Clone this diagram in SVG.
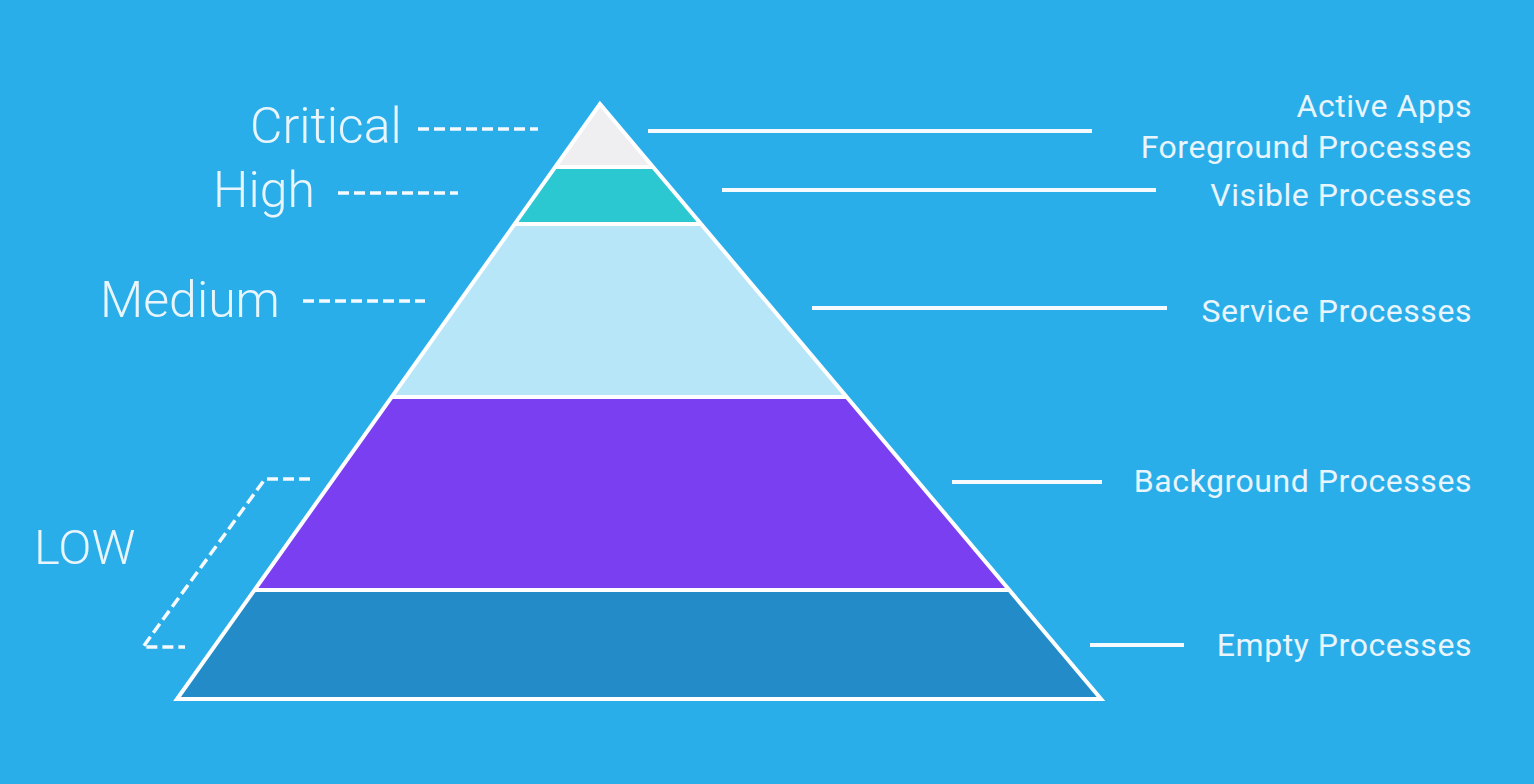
<svg xmlns="http://www.w3.org/2000/svg" width="1534" height="784" viewBox="0 0 1534 784">
<style>
.lbl{font-family:Roboto,"Liberation Sans",sans-serif;font-weight:300;font-size:50px;fill:#e9f5fc}
.rt{font-family:Roboto,"Liberation Sans",sans-serif;font-size:32px;letter-spacing:0.55px;fill:#e9f5fc;text-anchor:end}
.dash{stroke:#f4fafe;stroke-width:3.5;fill:none;stroke-dasharray:11 5}
.solid{stroke:#f4fafe;stroke-width:4;fill:none}
.sep{stroke:#ffffff;stroke-width:4}
</style>
<defs>
<clipPath id="tri"><polygon points="600,104 177,699 1101,699"/></clipPath>
</defs>
<rect width="1534" height="784" fill="#29aeea"/>
<g id="pyramid">
<g clip-path="url(#tri)">
<rect x="150" y="90" width="1000" height="77" fill="#efeff1"/>
<rect x="150" y="167" width="1000" height="57" fill="#2bc8d2"/>
<rect x="150" y="224" width="1000" height="173" fill="#b8e6f9"/>
<rect x="150" y="397" width="1000" height="193" fill="#7a3ff1"/>
<rect x="150" y="590" width="1000" height="115" fill="#228bc8"/>
<line class="sep" x1="150" y1="167" x2="1150" y2="167"/>
<line class="sep" x1="150" y1="224" x2="1150" y2="224"/>
<line class="sep" x1="150" y1="397" x2="1150" y2="397"/>
<line class="sep" x1="150" y1="590" x2="1150" y2="590"/>
</g>
<polygon points="600,104 177,699 1101,699" fill="none" stroke="#ffffff" stroke-width="4"/>
</g>
<g id="levels">
<text class="lbl" x="250" y="143">Critical</text>
<text class="lbl" x="213" y="207">High</text>
<text class="lbl" x="100" y="317">Medium</text>
<text class="lbl" x="34" y="564" style="font-size:49px">LOW</text>
</g>
<g id="connectors">
<line class="dash" x1="418" y1="129" x2="538" y2="129"/>
<line class="dash" x1="338" y1="193" x2="458" y2="193"/>
<line class="dash" x1="303" y1="301" x2="425" y2="301"/>
<polyline class="dash" points="310,479 265,479 143,647 185,647" stroke-dasharray="12 7"/>
<line class="solid" x1="648" y1="131" x2="1092" y2="131"/>
<line class="solid" x1="722" y1="190" x2="1156" y2="190"/>
<line class="solid" x1="812" y1="308" x2="1167" y2="308"/>
<line class="solid" x1="952" y1="482" x2="1102" y2="482"/>
<line class="solid" x1="1090" y1="645" x2="1184" y2="645"/>
</g>
<g id="processes">
<text class="rt" x="1472" y="117">Active Apps</text>
<text class="rt" x="1472" y="158">Foreground Processes</text>
<text class="rt" x="1472" y="206">Visible Processes</text>
<text class="rt" x="1472" y="322">Service Processes</text>
<text class="rt" x="1472" y="492">Background Processes</text>
<text class="rt" x="1472" y="656">Empty Processes</text>
</g>
</svg>
